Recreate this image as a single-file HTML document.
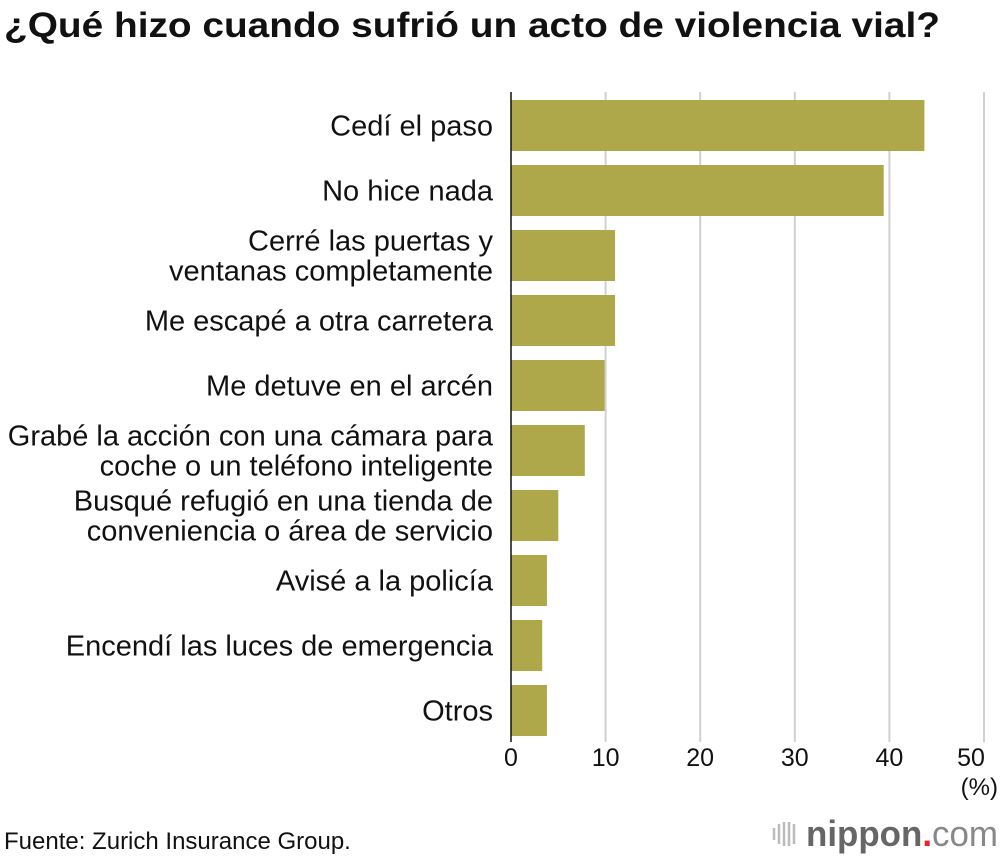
<!DOCTYPE html>
<html><head><meta charset="utf-8"><style>
body{margin:0;background:#fff;width:1000px;height:856px;overflow:hidden;font-family:"Liberation Sans",sans-serif}
</style></head><body>
<svg width="1000" height="856" xmlns="http://www.w3.org/2000/svg">
<text x="4" y="37" font-size="35" font-weight="bold" fill="#111" textLength="936" lengthAdjust="spacingAndGlyphs">¿Qué hizo cuando sufrió un acto de violencia vial?</text>
<g id="grid"></g>
<g id="bars"></g>
<g id="labels"></g>
<g id="ticks"></g>
<line x1="511" y1="92" x2="511" y2="742" stroke="#111" stroke-width="1.5"/>
<text x="998" y="795" font-size="24" text-anchor="end" fill="#111">(%)</text>
<text x="4" y="849" font-size="24" fill="#111">Fuente: Zurich Insurance Group.</text>
<g>
<g stroke="#bbb" stroke-width="2.5"><line x1="774" y1="828" x2="774" y2="840"/><line x1="779" y1="824" x2="779" y2="844"/><line x1="784" y1="822" x2="784" y2="846"/><line x1="789" y1="822" x2="789" y2="846"/><line x1="794" y1="824" x2="794" y2="844"/></g>
<text x="806" y="846" font-size="36" font-weight="bold" fill="#666" textLength="192" lengthAdjust="spacingAndGlyphs">nippon<tspan fill="#e8242b">.</tspan><tspan font-weight="normal" fill="#888">com</tspan></text>
</g>
</svg>
<script>
const categories=[["Cedí el paso"],["No hice nada"],["Cerré las puertas y","ventanas completamente"],["Me escapé a otra carretera"],["Me detuve en el arcén"],["Grabé la acción con una cámara para","coche o un teléfono inteligente"],["Busqué refugió en una tienda de","conveniencia o área de servicio"],["Avisé a la policía"],["Encendí las luces de emergencia"],["Otros"]];
const values=[43.7,39.4,11.0,11.0,9.9,7.8,5.0,3.8,3.3,3.8];
const tickValues=[0,10,20,30,40,50];
const NS="http://www.w3.org/2000/svg";
const x0=511,x1=984,xmax=50;
function xs(v){return x0+(x1-x0)*v/xmax;}
function ys(i){return 100+i*65;}
const bh=51;
function mk(t,a,p){const e=document.createElementNS(NS,t);for(const k in a)e.setAttribute(k,a[k]);p.appendChild(e);return e;}
const G=document.getElementById('grid'),B=document.getElementById('bars'),L=document.getElementById('labels'),T=document.getElementById('ticks');
tickValues.forEach(v=>{
 if(v>0){const l=mk('line',{x1:xs(v),x2:xs(v),y1:92,y2:742,stroke:'#d0d0d0','stroke-width':2},G);
 
 }
 const t=mk('text',{x:v===50?xs(v)-13:xs(v),y:766,'font-size':25,'text-anchor':'middle',fill:'#111'},T);
 t.textContent=v;
 
 
});
values.forEach((v,i)=>{
 const r=mk('rect',{x:x0,y:ys(i),width:xs(v)-x0,height:bh,fill:'#afa84a'},B);
 
 
 const lines=categories[i];
 lines.forEach((s,j)=>{
  const cy=ys(i)+bh/2+10+(j-(lines.length-1)/2)*30;
  const t=mk('text',{x:493,y:cy,'font-size':29,'text-anchor':'end',fill:'#111'},L);
  t.textContent=s;
  
  
 });
});
</script>
</body></html>
